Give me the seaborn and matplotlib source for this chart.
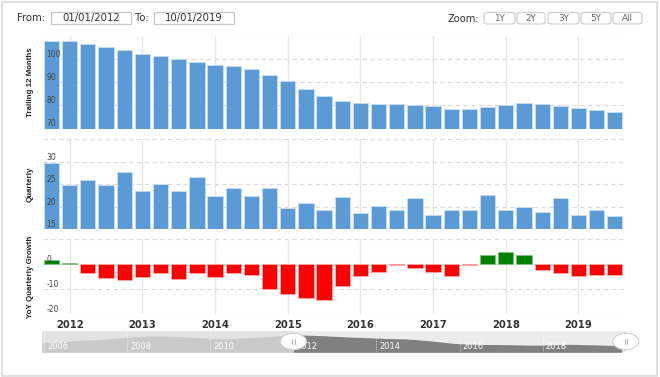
import numpy as np
import pandas as pd
import matplotlib
matplotlib.use("Agg")
import matplotlib.pyplot as plt
import matplotlib.transforms as mtransforms
from matplotlib.patches import Rectangle, FancyBboxPatch, Ellipse
import seaborn as sns

# ---------------- data ----------------
years = [2012, 2013, 2014, 2015, 2016, 2017, 2018, 2019]
trailing = [107.5, 107.5, 106.4, 105.1, 103.6, 102.0, 101.0, 99.7, 98.6, 97.4, 96.7,
            95.7, 93.0, 90.4, 87.1, 84.0, 81.8, 81.0, 80.4, 80.4, 79.9, 79.5, 78.5,
            78.5, 79.2, 80.1, 81.0, 80.4, 79.6, 78.8, 77.9, 77.0]
quarterly = [29.7, 24.8, 25.9, 24.8, 27.75, 23.4, 25.0, 23.4, 26.7, 22.3, 24.1, 22.4,
             24.1, 19.6, 20.8, 19.25, 22.1, 18.65, 20.2, 19.25, 21.9, 18.1, 19.25, 19.2,
             22.5, 19.2, 20.0, 18.8, 21.9, 18.1, 19.2, 18.0]
yoy = [1.5, 0.3, -3.4, -5.7, -6.4, -5.2, -3.4, -6.0, -3.5, -5.2, -3.5, -4.3, -9.9,
       -11.9, -13.5, -14.3, -8.8, -4.8, -3.1, -0.4, -1.5, -3.1, -4.8, -0.5, 3.5, 5.0,
       3.8, -2.2, -3.5, -4.8, -4.3, -4.2]
# navigator history (trailing 12 months, 2006-2011 quarters)
nav_hist = [86.5, 88.0, 89.5, 91.0, 92.5, 94.0, 96.0, 98.5, 101.0, 103.0, 104.5, 105.0,
            104.0, 102.5, 101.0, 99.5, 98.0, 97.0, 97.5, 99.0, 100.5, 102.0, 104.0, 106.0]
nav_years = [2006, 2008, 2010, 2012, 2014, 2016, 2018]
nav_range = [2012.0, 2020.0]
date_from, date_to = "01/01/2012", "10/01/2019"
zoom_buttons = ["1Y", "2Y", "3Y", "5Y", "All"]

BLUE = "#5b9bd5"
BLUE_EDGE = "#c4dbf1"
RED = "#ff0000"
GREEN = "#008000"

sns.set_theme(style="white")
plt.rcParams["font.family"] = ["DejaVu Sans"]
plt.rcParams["axes.axisbelow"] = False

W, H = 660, 377
fig = plt.figure(figsize=(W / 100, H / 100), dpi=100)
fig.patch.set_facecolor("white")


def ax_at(l, t, r, b):
    return fig.add_axes([l / W, 1 - b / H, (r - l) / W, (b - t) / H])


n = len(trailing)
df = pd.DataFrame({"q": np.arange(n), "trailing": trailing, "quarterly": quarterly, "yoy": yoy})
df["sign"] = np.where(df["yoy"] >= 0, "up", "down")
year_pos = [1 + 4 * k for k in range(len(years))]

ax1 = ax_at(43, 35.5, 627, 128.5)
ax2 = ax_at(43, 139.3, 627, 229)
ax3 = ax_at(43, 239.3, 627, 314)
axn = ax_at(42, 330.7, 627, 352.3)

sns.barplot(data=df, x="q", y="trailing", ax=ax1, color=BLUE, saturation=1,
            width=0.84, edgecolor=BLUE_EDGE, linewidth=0.7, errorbar=None)
sns.barplot(data=df, x="q", y="quarterly", ax=ax2, color=BLUE, saturation=1,
            width=0.84, edgecolor=BLUE_EDGE, linewidth=0.7, errorbar=None)
sns.barplot(data=df, x="q", y="yoy", hue="sign", palette={"up": GREEN, "down": RED},
            dodge=False, legend=False, ax=ax3, saturation=1, width=0.84,
            edgecolor="#ffb0b0", linewidth=0.5, errorbar=None)
for p in ax3.patches:
    if p.get_height() > 0:
        p.set_edgecolor("#7fbf7f")


def style(ax, ylim, grid_vals, label_vals, ylabel, show_x):
    ax.set_xlim(-0.468, 31.67)
    ax.set_ylim(*ylim)
    ax.set_axisbelow(False)
    for s in ax.spines.values():
        s.set_visible(False)
    ax.grid(False)
    for v in grid_vals:
        ax.axhline(v, color="#d9d9d9", lw=0.8, ls=(0, (4, 3)), zorder=0)
    for p in year_pos:
        ax.axvline(p, color="#e6e6e6", lw=1.0, zorder=0)
    ax.set_yticks(label_vals)
    ax.set_yticklabels([str(v) for v in label_vals])
    ax.tick_params(axis="y", length=0, pad=-2.5, labelsize=5.5, labelcolor="#444444")
    for t in ax.get_yticklabels():
        t.set_horizontalalignment("left")
        t.set_verticalalignment("bottom")
    ax.set_xticks(year_pos)
    if show_x:
        ax.set_xticklabels([str(y) for y in years], fontweight="bold")
        ax.tick_params(axis="x", length=0, pad=4.5, labelsize=7.2, labelcolor="#333333")
    else:
        ax.set_xticklabels([])
        ax.tick_params(axis="x", length=0)
    ax.set_xlabel("")
    ax.set_ylabel(ylabel, fontfamily=["Liberation Sans", "DejaVu Sans"], fontweight="bold",
                  fontsize=5.7, color="#222222")
    ax.yaxis.set_label_coords(-0.016, 0.5)


style(ax1, (70, 110), [80, 90, 100, 110], [70, 80, 90, 100], "Trailing 12 Months", False)
style(ax2, (15, 35), [20, 25, 30, 35], [15, 20, 25, 30], "Quarterly", False)
style(ax3, (-20, 10), [-20, -10, 0, 10], [-20, -10, 0], "YoY Quarterly Growth", True)

# ---------------- navigator ----------------
nav_vals = np.array(nav_hist + trailing, dtype=float)
nav_t = np.linspace(2005.95, 2019.9, len(nav_vals))
axn.set_xlim(2005.95, 2020.03)
axn.set_ylim(58, 120)
axn.set_facecolor("#ececec")
for s in axn.spines.values():
    s.set_visible(False)
axn.set_xticks([])
axn.set_yticks([])
axn.axvspan(2005.95, nav_range[0], color="#e2e2e2", zorder=0, lw=0)
v_cut = np.interp(nav_range[0], nav_t, nav_vals)
left_m = nav_t < nav_range[0]
tl = np.concatenate([nav_t[left_m], [nav_range[0]]])
vl = np.concatenate([nav_vals[left_m], [v_cut]])
tr = np.concatenate([[nav_range[0]], nav_t[~left_m]])
vr = np.concatenate([[v_cut], nav_vals[~left_m]])
axn.fill_between(tl, 58, vl, color="#c9c9c9", lw=0, zorder=1)
axn.fill_between(tr, 58, vr, color="#808080", lw=0, zorder=1)
for y in nav_years:
    axn.axvline(y, color="white", lw=0.6, alpha=0.35, zorder=1.5)
    axn.text(y + 0.07, 0.26, str(y), transform=axn.get_xaxis_transform(), ha="left",
             va="center", fontsize=6, color="white", zorder=2)
btrans = axn.get_xaxis_transform()
for x in nav_range:
    axn.add_patch(Ellipse((x, 0.5), 0.625, 0.76, transform=btrans, facecolor="white",
                          edgecolor="#cfcfcf", lw=0.8, zorder=5, clip_on=False))
    for dx in (-0.03, 0.03):
        axn.plot([x + dx, x + dx], [0.4, 0.6], transform=btrans, color="#a0a0a0",
                 lw=0.6, zorder=6, clip_on=False)

# ---------------- top controls ----------------
def fx(x):
    return x / W


def fy(y):
    return 1 - y / H


def box(l, t, r, b, round_=False):
    if round_:
        p = FancyBboxPatch((fx(l), fy(b)), fx(r - l), (b - t) / H,
                           boxstyle="round,pad=0,rounding_size=0.006",
                           transform=fig.transFigure, facecolor="white",
                           edgecolor="#cccccc", lw=0.8)
    else:
        p = Rectangle((fx(l), fy(b)), fx(r - l), (b - t) / H, transform=fig.transFigure,
                      facecolor="white", edgecolor="#c8c8c8", lw=0.9)
    fig.patches.append(p)


fig.text(fx(17), fy(18), "From:", fontsize=7.3, color="#333333", ha="left", va="center")
box(51, 12, 131, 23.5)
fig.text(fx(91), fy(18), date_from, fontsize=7.3, color="#333333", ha="center", va="center")
fig.text(fx(135), fy(18), "To:", fontsize=7.3, color="#333333", ha="left", va="center")
box(153.5, 12, 234, 23.5)
fig.text(fx(194), fy(18), date_to, fontsize=7.3, color="#333333", ha="center", va="center")

fig.text(fx(447), fy(18.5), "Zoom:", fontsize=7.1, color="#333333", ha="left", va="center")
btn_l = [484, 517, 548, 581, 613]
btn_r = [515, 545, 579, 611, 642]
for lab, l, r in zip(zoom_buttons, btn_l, btn_r):
    box(l, 12.5, r, 24, round_=True)
    fig.text(fx((l + r) / 2), fy(18.5), lab, fontsize=6.3, color="#666666",
             ha="center", va="center")

# outer border
fig.patches.append(Rectangle((fx(1.5), fy(375.5)), fx(655), 374 / H,
                             transform=fig.transFigure, fill=False,
                             edgecolor="#dadada", lw=1.2))

fig.savefig("out.png", dpi=100)
